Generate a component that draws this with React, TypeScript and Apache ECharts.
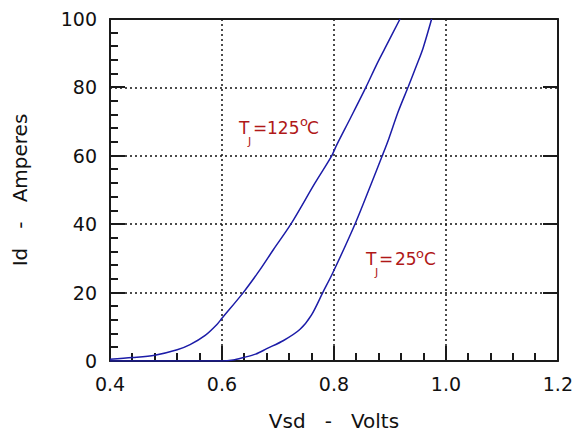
import React, { useEffect, useRef } from "react";
import * as echarts from "echarts";

const xTicks = [0.4, 0.6, 0.8, 1.0, 1.2];
const yTicks = [0, 20, 40, 60, 80, 100];
const xMinorStep = 0.04;
const yMinorStep = 4;

const tj125: [number, number][] = [
  [0.4, 0.5], [0.44, 1.0], [0.48, 1.7], [0.52, 3.3], [0.543, 4.8], [0.57, 7.5],
  [0.591, 10.7], [0.6, 12.5], [0.638, 20], [0.668, 26.7], [0.692, 32.6],
  [0.723, 40], [0.766, 52], [0.796, 60], [0.805, 63.2], [0.83, 71.2],
  [0.857, 80], [0.876, 86.6], [0.891, 91.4], [0.918, 100],
];

const tj25: [number, number][] = [
  [0.4, 0], [0.6, 0], [0.62, 0.3], [0.638, 1], [0.66, 2], [0.68, 3.6],
  [0.71, 6], [0.739, 9.2], [0.76, 13.5], [0.78, 20], [0.798, 25.8],
  [0.8375, 40], [0.867, 52], [0.8863, 60], [0.898, 65], [0.915, 73],
  [0.9327, 80.2], [0.948, 86.6], [0.959, 91.4], [0.9745, 100],
];

const FONT = "DejaVu Sans";
const RED = "#b01818";
const BLUE = "#1c1ca8";
const FRAME = "#1a1a1a";

function label(
  tx: number,
  cy: number,
  parts: { t: string; x: number; dy: number; size: number }[]
) {
  return parts.map((p) => ({
    type: "text",
    x: tx + p.x,
    y: cy + p.dy,
    silent: true,
    z: 10,
    style: {
      text: p.t,
      fill: RED,
      font: `${p.size}px "${FONT}"`,
      verticalAlign: "middle",
      align: "left",
    },
  }));
}

export default function App() {
  const ref = useRef<HTMLDivElement>(null);
  useEffect(() => {
    document.body.style.margin = "0";
    const chart = echarts.init(ref.current!, null, { renderer: "svg" });
    const axisLine = { show: true, onZero: false, lineStyle: { color: FRAME, width: 2 } };
    const grid = { show: true, lineStyle: { color: "#111", width: 1.5, type: [2, 3] } };
    const xMin = xTicks[0];
    const xMax = xTicks[xTicks.length - 1];
    const yMin = yTicks[0];
    const yMax = yTicks[yTicks.length - 1];

    chart.setOption({
      animation: false,
      backgroundColor: "#fff",
      grid: { left: 110, right: 18, top: 19, bottom: 80 },
      xAxis: [
        {
          type: "value",
          position: "bottom",
          min: xMin,
          max: xMax,
          interval: 0.2,
          axisLine,
          axisTick: { show: false },
          splitLine: grid,
          axisLabel: {
            color: "#111",
            fontFamily: FONT,
            fontSize: 19,
            margin: 13,
            formatter: (v: number) => v.toFixed(1),
          },
          name: "Vsd   -   Volts",
          nameLocation: "middle",
          nameGap: 50,
          nameTextStyle: { color: "#111", fontFamily: FONT, fontSize: 20 },
        },
        {
          type: "value",
          position: "top",
          min: xMin,
          max: xMax,
          interval: 0.2,
          axisLine,
          axisTick: { show: false },
          axisLabel: { show: false },
          splitLine: { show: false },
        },
      ],
      yAxis: [
        {
          type: "value",
          position: "left",
          min: yMin,
          max: yMax,
          interval: 20,
          axisLine,
          axisTick: { show: false },
          splitLine: grid,
          axisLabel: { color: "#111", fontFamily: FONT, fontSize: 19, margin: 13 },
          name: "Id   -   Amperes",
          nameLocation: "middle",
          nameGap: 80,
          nameTextStyle: { color: "#111", fontFamily: FONT, fontSize: 20 },
        },
        {
          type: "value",
          position: "right",
          min: yMin,
          max: yMax,
          interval: 20,
          axisLine,
          axisTick: { show: false },
          axisLabel: { show: false },
          splitLine: { show: false },
        },
      ],
      series: [
        {
          name: "TJ=125°C",
          type: "line",
          data: tj125,
          showSymbol: false,
          smooth: 0.3,
          lineStyle: { color: BLUE, width: 1.5 },
          z: 5,
        },
        {
          name: "TJ=25°C",
          type: "line",
          data: tj25,
          showSymbol: false,
          smooth: 0.3,
          lineStyle: { color: BLUE, width: 1.5 },
          z: 5,
        },
      ],
    });

    // tick marks placed through the axes' own scales
    const px = (x: number, y: number) =>
      (chart.convertToPixel({ gridIndex: 0 }, [x, y]) as number[]).map((c) => Math.round(c));
    const tickLines: any[] = [];
    const addTick = (p: number[], dx: number, dy: number) =>
      tickLines.push({
        type: "line",
        silent: true,
        z: 4,
        shape: { x1: p[0], y1: p[1], x2: p[0] + dx, y2: p[1] + dy },
        style: { stroke: FRAME, lineWidth: 2 },
      });
    const nx = Math.round((xMax - xMin) / xMinorStep);
    for (let i = 0; i <= nx; i++) {
      const v = xMin + i * xMinorStep;
      addTick(px(v, yMin), 0, -(i % 5 === 0 ? 15 : 8));
    }
    const ny = Math.round((yMax - yMin) / yMinorStep);
    for (let i = 0; i <= ny; i++) {
      const v = yMin + i * yMinorStep;
      addTick(px(xMin, v), i % 5 === 0 ? 15 : 8, 0);
      if (i % 5 === 0 && i > 0) addTick(px(xMax, v), -15, 0);
    }

    chart.setOption({
      graphic: [
        ...tickLines,
        ...label(239, 127.5, [
          { t: "T", x: 0, dy: 0, size: 17 },
          { t: "J", x: 9, dy: 13.5, size: 11 },
          { t: "=", x: 14, dy: 0, size: 17 },
          { t: "125", x: 28, dy: 0, size: 17 },
          { t: "o", x: 61, dy: -6, size: 13 },
          { t: "C", x: 68, dy: 0, size: 17 },
        ]),
        ...label(366, 259, [
          { t: "T", x: 0, dy: 0, size: 17 },
          { t: "J", x: 9, dy: 13.5, size: 11 },
          { t: "=", x: 13, dy: 0, size: 17 },
          { t: "25", x: 29, dy: 0, size: 17 },
          { t: "o", x: 50, dy: -6, size: 13 },
          { t: "C", x: 58, dy: 0, size: 17 },
        ]),
      ],
    });
    return () => chart.dispose();
  }, []);
  return (
    <div
      ref={ref}
      style={{ position: "fixed", left: 0, top: 0, width: 576, height: 441 }}
    />
  );
}
